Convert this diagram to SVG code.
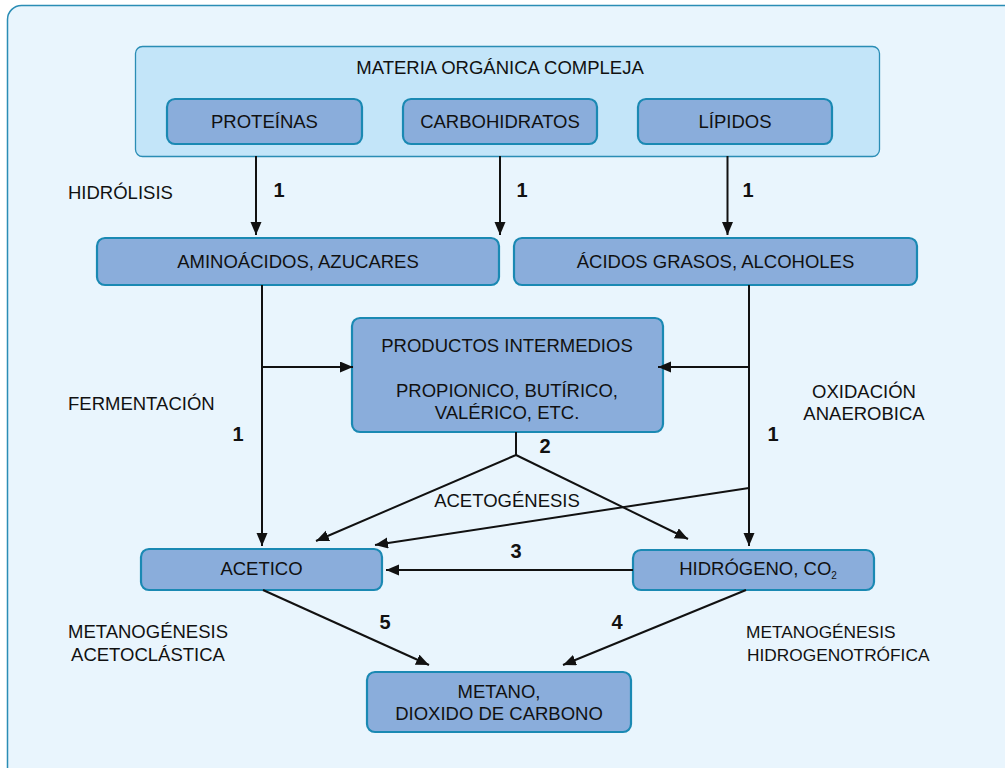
<svg xmlns="http://www.w3.org/2000/svg" width="1005" height="768" viewBox="0 0 1005 768">
<defs>
<style>
.frame{fill:#e9f5fd;stroke:#2a8db5;stroke-width:1.5}
.group{fill:#c3e5f9;stroke:#2a8db5;stroke-width:1.3}
.node{fill:#8aaddb;stroke:#1a89b3;stroke-width:2.2}
.t{font-family:"Liberation Sans",Arial,sans-serif;font-size:18.5px;fill:#111;text-anchor:middle}
.l{font-family:"Liberation Sans",Arial,sans-serif;font-size:18.5px;fill:#111}
.s{font-size:17.3px}
.n{font-family:"Liberation Sans",Arial,sans-serif;font-size:20px;font-weight:bold;fill:#111;text-anchor:middle}
.c{fill:none;stroke:#111;stroke-width:2}
</style>
<marker id="ah" markerUnits="userSpaceOnUse" markerWidth="14" markerHeight="12" refX="13" refY="5.5" orient="auto">
<path d="M0,0 L13,5.5 L0,11 z" fill="#111"/>
</marker>
</defs>
<rect x="0" y="0" width="1005" height="768" fill="#ffffff"/>
<rect class="frame" x="7.5" y="5.5" width="1012" height="780" rx="14"/>

<g id="materia">
<rect class="group" x="135.5" y="46.5" width="744" height="110" rx="7"/>
<text class="t" x="500" y="74">MATERIA ORGÁNICA COMPLEJA</text>
</g>
<g id="proteinas">
<rect class="node" x="167" y="99" width="195" height="45" rx="8"/>
<text class="t" x="264.5" y="128">PROTEÍNAS</text>
</g>
<g id="carbohidratos">
<rect class="node" x="403" y="99" width="194" height="45" rx="8"/>
<text class="t" x="500" y="128">CARBOHIDRATOS</text>
</g>
<g id="lipidos">
<rect class="node" x="638" y="99" width="194" height="45" rx="8"/>
<text class="t" x="735" y="128">LÍPIDOS</text>
</g>
<g id="aminoacidos">
<rect class="node" x="97" y="238" width="402" height="47" rx="8"/>
<text class="t" x="298" y="268">AMINOÁCIDOS, AZUCARES</text>
</g>
<g id="acidos">
<rect class="node" x="514" y="238" width="403" height="47" rx="8"/>
<text class="t" x="715.5" y="268">ÁCIDOS GRASOS, ALCOHOLES</text>
</g>
<g id="intermedios">
<rect class="node" x="352" y="318" width="311" height="114" rx="8"/>
<text class="t" x="507" y="352">PRODUCTOS INTERMEDIOS</text>
<text class="t" x="507" y="397">PROPIONICO, BUTÍRICO,</text>
<text class="t" x="507" y="419">VALÉRICO, ETC.</text>
</g>
<g id="acetico">
<rect class="node" x="141" y="549" width="241" height="41" rx="8"/>
<text class="t" x="261.5" y="575">ACETICO</text>
</g>
<g id="hidrogeno">
<rect class="node" x="633" y="550" width="241" height="40" rx="8"/>
<text class="t" x="758" y="575">HIDRÓGENO, CO<tspan font-size="10" dy="4">2</tspan></text>
</g>
<g id="metano">
<rect class="node" x="367" y="672" width="264" height="60" rx="8"/>
<text class="t" x="499" y="698">METANO,</text>
<text class="t" x="499" y="720">DIOXIDO DE CARBONO</text>
</g>

<g id="connectors">
<line class="c" x1="256" y1="156" x2="256" y2="235" marker-end="url(#ah)"/>
<line class="c" x1="500" y1="156" x2="500" y2="235" marker-end="url(#ah)"/>
<line class="c" x1="727.5" y1="156" x2="727.5" y2="235" marker-end="url(#ah)"/>
<line class="c" x1="262" y1="285" x2="262" y2="546" marker-end="url(#ah)"/>
<line class="c" x1="262" y1="367" x2="353" y2="367" marker-end="url(#ah)"/>
<line class="c" x1="749" y1="285" x2="749" y2="546" marker-end="url(#ah)"/>
<line class="c" x1="749" y1="367" x2="658" y2="367" marker-end="url(#ah)"/>
<polyline class="c" points="516,432 516,455 316,541" marker-end="url(#ah)"/>
<line class="c" x1="516" y1="455" x2="688" y2="539" marker-end="url(#ah)"/>
<line class="c" x1="749" y1="488" x2="375" y2="545" marker-end="url(#ah)"/>
<line class="c" x1="633" y1="570" x2="386" y2="570" marker-end="url(#ah)"/>
<line class="c" x1="263" y1="590" x2="429" y2="665" marker-end="url(#ah)"/>
<line class="c" x1="746" y1="590" x2="563" y2="665" marker-end="url(#ah)"/>
</g>

<g id="labels">
<text class="l" x="68" y="199">HIDRÓLISIS</text>
<text class="l" x="68" y="410">FERMENTACIÓN</text>
<text class="t" x="864" y="398">OXIDACIÓN</text>
<text class="t" x="864" y="420">ANAEROBICA</text>
<text class="t" x="507" y="507">ACETOGÉNESIS</text>
<text class="t" x="148" y="638">METANOGÉNESIS</text>
<text class="t" x="148" y="661">ACETOCLÁSTICA</text>
<text class="l s" x="746" y="638">METANOGÉNESIS</text>
<text class="l s" x="747" y="661">HIDROGENOTRÓFICA</text>
<text class="n" x="279" y="197">1</text>
<text class="n" x="522" y="197">1</text>
<text class="n" x="748" y="197">1</text>
<text class="n" x="238" y="441">1</text>
<text class="n" x="773" y="441">1</text>
<text class="n" x="545" y="453">2</text>
<text class="n" x="516" y="558">3</text>
<text class="n" x="385" y="629">5</text>
<text class="n" x="617" y="629">4</text>
</g>
</svg>
